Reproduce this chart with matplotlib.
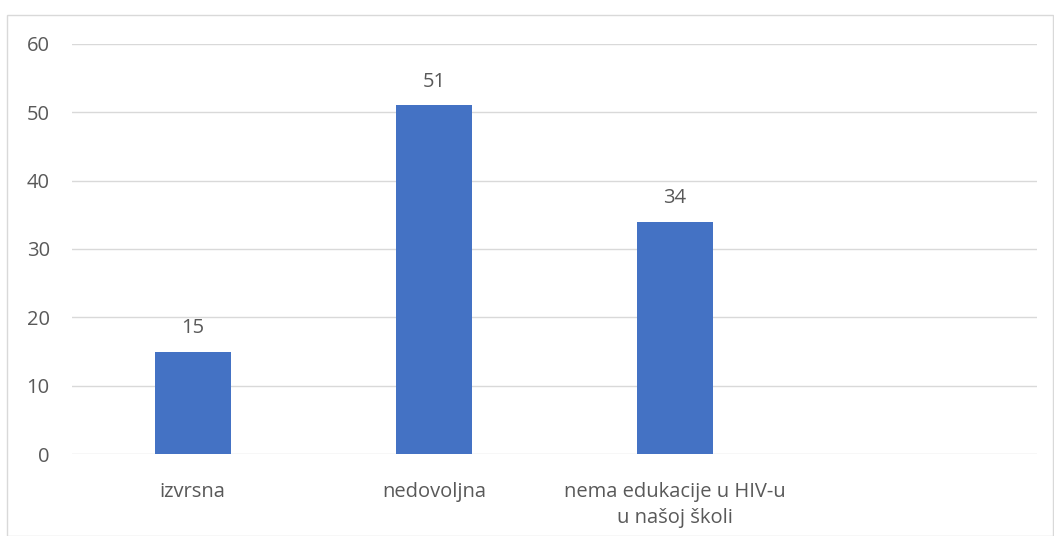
import matplotlib
matplotlib.use("Agg")
import matplotlib.pyplot as plt
from matplotlib.patches import Rectangle

categories = ["izvrsna", "nedovoljna", "nema edukacije u HIV-u\nu našoj školi", ""]
values = [15, 51, 34, None]
y_ticks = [0, 10, 20, 30, 40, 50, 60]

plt.rcParams["font.family"] = ["Open Sans", "DejaVu Sans"]
text_color = "#595959"
fs = 14.5

fig = plt.figure(figsize=(10.54, 5.36), dpi=100)
ax = fig.add_axes([72 / 1054, 82 / 536, (1037 - 72) / 1054, (454 - 44) / 536])

# outer chart border like the Excel frame
fig.patches.append(Rectangle((7 / 1054, 0.5 / 536), (1053 - 7) / 1054, (521 - 0.5) / 536,
                             transform=fig.transFigure, fill=False,
                             edgecolor="#d9d9d9", linewidth=1))

xs = list(range(len(categories)))
hs = [v if v is not None else 0 for v in values]
bars = ax.bar(xs, hs, width=0.315, color="#4472C4", zorder=3)
for x, v in zip(xs, values):
    if v is not None:
        ax.text(x, v + 2.0, str(v), ha="center", va="bottom", fontsize=fs, color=text_color)

ax.set_xlim(-0.5, len(categories) - 0.5)
ax.set_ylim(0, 60)
ax.set_yticks(y_ticks)
ax.set_xticks(xs)
ax.set_xticklabels(categories, fontsize=fs, color=text_color, linespacing=1.4)
ax.tick_params(axis="y", labelsize=fs, labelcolor=text_color, length=0, pad=16)
ax.tick_params(axis="x", length=0, pad=20)
ax.grid(axis="y", color="#d9d9d9", linewidth=1, zorder=0)
for s in ax.spines.values():
    s.set_visible(False)

fig.savefig("out.png", dpi=100)
